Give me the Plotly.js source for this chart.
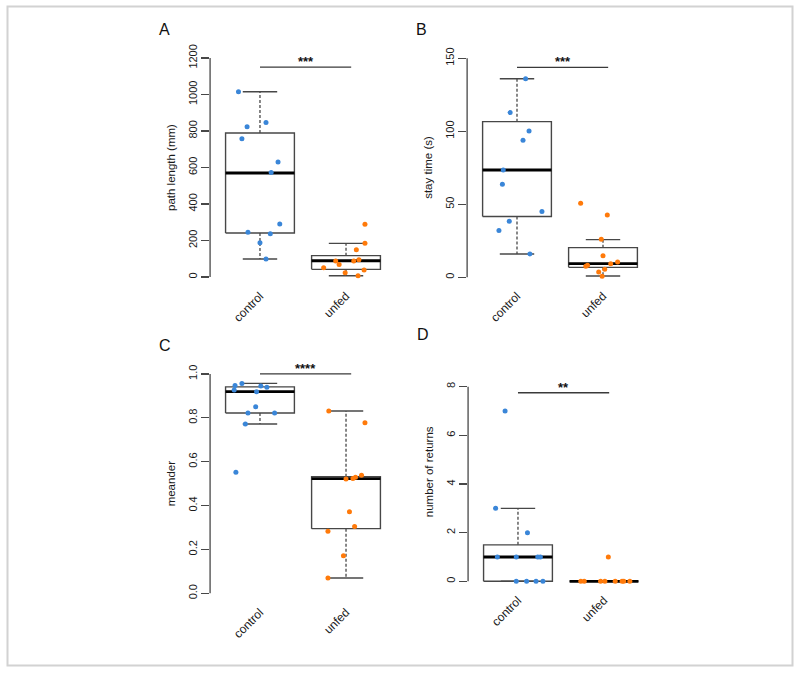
<!DOCTYPE html>
<html>
<head>
<meta charset="utf-8">
<script src="https://cdn.plot.ly/plotly-3.0.1.min.js"></script>
<style>
  body { margin: 0; background: #fff; }
  #chart { width: 800px; height: 673px; }
</style>
</head>
<body>
<div id="chart"></div>
<script>
// Four boxplots (control vs unfed) with jittered points

const groups = ['control', 'unfed'];

// box stats: [lower whisker, Q1, median, Q3, upper whisker]
// A: path length (mm)
const pathControl = [1015, 824, 847, 758, 630, 572, 290, 245, 237, 188, 99];
const pathControlJitter = [-0.25, -0.15, 0.07, -0.21, 0.21, 0.13, 0.23, -0.14, 0.12, 0.00, 0.07];
const pathControlBox = [99, 241, 570, 789, 1015];
const pathUnfed = [289, 185, 149, 88, 68, 88, 94, 51, 38, 23, 7];
const pathUnfedJitter = [0.22, 0.22, 0.12, -0.12, -0.08, 0.09, 0.15, -0.26, 0.21, -0.01, 0.14];
const pathUnfedBox = [7, 42, 89, 117, 184];

// B: stay time (s)
const stayControl = [136, 112.8, 100.2, 93.8, 73.5, 63.7, 45, 38.4, 32, 16];
const stayControlJitter = [0.10, -0.08, 0.14, 0.07, -0.16, -0.17, 0.29, -0.09, -0.21, 0.15];
const stayControlBox = [16, 41.6, 73.5, 106.6, 136];
const stayUnfed = [50.7, 42.7, 26, 14.8, 9.3, 10.5, 7.5, 8.2, 5.5, 3.6, 0.7];
const stayUnfedJitter = [-0.26, 0.05, -0.02, 0.00, 0.09, 0.17, -0.20, -0.18, 0.02, -0.05, -0.01];
const stayUnfedBox = [0.9, 6.8, 9.3, 20.3, 25.8];

// C: meander
const meanderControl = [0.956, 0.947, 0.945, 0.939, 0.927, 0.919, 0.850, 0.822, 0.822, 0.772, 0.552];
const meanderControlJitter = [-0.21, -0.29, 0.01, 0.08, -0.30, -0.04, -0.05, -0.14, 0.17, -0.17, -0.28];
const meanderControlBox = [0.772, 0.822, 0.919, 0.941, 0.957];
const meanderUnfed = [0.831, 0.777, 0.538, 0.529, 0.524, 0.521, 0.372, 0.305, 0.283, 0.171, 0.070];
const meanderUnfedJitter = [-0.20, 0.22, 0.18, 0.11, 0.08, 0.00, 0.04, 0.10, -0.21, -0.03, -0.21];
const meanderUnfedBox = [0.070, 0.295, 0.523, 0.532, 0.831];

// D: number of returns
const returnsControl = [7, 3, 2, 1, 1, 1, 1, 0, 0, 0, 0];
const returnsControlJitter = [-0.15, -0.26, 0.11, -0.24, -0.02, 0.23, 0.26, -0.02, 0.10, 0.21, 0.29];
const returnsControlBox = [0, 0, 1, 1.5, 3];
const returnsUnfed = [0, 0, 0, 0, 0, 0, 0, 0, 1];
const returnsUnfedJitter = [-0.27, -0.23, -0.04, 0.01, 0.13, 0.21, 0.23, 0.30, 0.05];
const returnsUnfedBox = [0, 0, 0, 0, 0];

// significance bars
const sigLevels = [1150, 143.8, 1.0, 7.75];
const sigLabels = ['***', '***', '****', '**'];
const yTicks = [
    [0, 200, 400, 600, 800, 1000, 1200],
    [0, 50, 100, 150],
    [0, 0.2, 0.4, 0.6, 0.8, 1.0],
    [0, 2, 4, 6, 8]
];
const yTickText = [
    ['0', '200', '400', '600', '800', '1000', '1200'],
    ['0', '50', '100', '150'],
    ['0.0', '0.2', '0.4', '0.6', '0.8', '1.0'],
    ['0', '2', '4', '6', '8']
];
const yTitles = ['path length (mm)', 'stay time (s)', 'meander', 'number of returns'];
const panelLetters = ['A', 'B', 'C', 'D'];

const FONT = 'Liberation Sans, Arial, sans-serif';
const BLUE = '#3a86d8';
const ORANGE = '#ff7a0a';
const BOXLINE = '#474747';

// panel placement (paper fractions) and ranges
const xDomains = [[0.2626, 0.4949], [0.5839, 0.8161], [0.2626, 0.4949], [0.5851, 0.8174]];
const yDomains = [[0.5754, 0.9268], [0.5754, 0.9268], [0.1053, 0.4574], [0.1232, 0.4746]];
const yRanges = [[-48, 1248], [-5.8, 156.2], [-0.04, 1.04], [-0.36, 9.36]];

// Build box + whisker + points for one group
function groupTraces(ax, center, box, vals, jitter, color) {
    const [lo, q1, med, q3, hi] = box;
    const xa = 'x' + ax, ya = 'y' + ax;
    const half = 0.4, cap = 0.2;
    const traces = [];
    const base = { xaxis: xa, yaxis: ya, type: 'scatter', mode: 'lines', hoverinfo: 'skip', showlegend: false };

    // whiskers (dashed)
    traces.push({ ...base,
        x: [center, center, null, center, center],
        y: [q3, hi, null, q1, lo],
        line: { color: BOXLINE, width: 1.3, dash: '3px,2px' }
    });
    // caps
    traces.push({ ...base,
        x: [center - cap, center + cap, null, center - cap, center + cap],
        y: [hi, hi, null, lo, lo],
        line: { color: BOXLINE, width: 1.4 }
    });
    // box
    traces.push({ ...base,
        x: [center - half, center + half, center + half, center - half, center - half],
        y: [q1, q1, q3, q3, q1],
        line: { color: BOXLINE, width: 1.4 }
    });
    // median
    traces.push({ ...base,
        x: [center - half, center + half],
        y: [med, med],
        line: { color: '#000', width: 2.8 }
    });
    // jittered points
    traces.push({
        xaxis: xa, yaxis: ya, type: 'scatter', mode: 'markers', showlegend: false,
        x: vals.map((v, i) => center + jitter[i]),
        y: vals,
        marker: { color: color, size: 5 }
    });
    return traces;
}

const panels = [
    [pathControl, pathControlJitter, pathControlBox, pathUnfed, pathUnfedJitter, pathUnfedBox],
    [stayControl, stayControlJitter, stayControlBox, stayUnfed, stayUnfedJitter, stayUnfedBox],
    [meanderControl, meanderControlJitter, meanderControlBox, meanderUnfed, meanderUnfedJitter, meanderUnfedBox],
    [returnsControl, returnsControlJitter, returnsControlBox, returnsUnfed, returnsUnfedJitter, returnsUnfedBox]
];

let data = [];
const layout = {
    width: 800,
    height: 673,
    margin: { l: 0, r: 0, t: 0, b: 0 },
    paper_bgcolor: '#fff',
    plot_bgcolor: 'rgba(0,0,0,0)',
    font: { family: FONT, color: '#1a1a1a' },
    showlegend: false,
    shapes: [],
    annotations: []
};

// outer frame
layout.shapes.push({
    type: 'rect', xref: 'paper', yref: 'paper',
    x0: 7.5 / 800, x1: 792.5 / 800, y0: 1 - 665.5 / 673, y1: 1 - 6.5 / 673,
    line: { color: '#d2d2d2', width: 2 }
});

panels.forEach((p, k) => {
    const n = k + 1;
    const ax = n === 1 ? '' : String(n);
    const [cv, cj, cb, uv, uj, ub] = p;
    data = data.concat(groupTraces(ax, 1, cb, cv, cj, BLUE));
    data = data.concat(groupTraces(ax, 2, ub, uv, uj, ORANGE));

    layout['xaxis' + ax] = {
        domain: xDomains[k],
        anchor: 'y' + ax,
        range: [0.42, 2.58],
        tickvals: [1, 2],
        ticktext: groups,
        tickangle: -45,
        ticks: '',
        showline: false,
        showgrid: false,
        zeroline: false,
        tickfont: { family: FONT, size: 12, color: '#1a1a1a' },
        fixedrange: true
    };
    layout['yaxis' + ax] = {
        domain: yDomains[k],
        anchor: 'x' + ax,
        range: yRanges[k],
        tickvals: yTicks[k],
        ticktext: yTickText[k],
        tickangle: -90,
        ticks: 'outside',
        ticklen: 8,
        tickwidth: 1.2,
        tickcolor: BOXLINE,
        showline: false,
        showgrid: false,
        zeroline: false,
        tickfont: { family: FONT, size: 11, color: '#1a1a1a' },
        title: { text: yTitles[k], font: { family: FONT, size: 11.5, color: '#1a1a1a' }, standoff: 8 },
        fixedrange: true
    };

    // y axis line only over tick span
    const t = yTicks[k];
    layout.shapes.push({
        type: 'line', xref: 'x' + ax + ' domain', yref: 'y' + ax,
        x0: 0, x1: 0, y0: t[0], y1: t[t.length - 1],
        line: { color: BOXLINE, width: 1.3 }
    });

    // significance bar
    layout.shapes.push({
        type: 'line', xref: 'x' + ax, yref: 'y' + ax,
        x0: 1, x1: 2.06, y0: sigLevels[k], y1: sigLevels[k],
        line: { color: '#3a3a3a', width: 1.3 }
    });
    layout.annotations.push({
        xref: 'x' + ax, yref: 'y' + ax,
        x: 1.53, y: sigLevels[k],
        text: '<b>' + sigLabels[k] + '</b>', showarrow: false,
        yanchor: 'bottom', yshift: -4,
        font: { family: FONT, size: 13, color: '#111' }
    });

    // panel letter
    layout.annotations.push({
        xref: 'paper', yref: 'paper',
        x: xDomains[k][0] - 0.066, y: yDomains[k][1] + 0.029,
        xanchor: 'left', yanchor: 'middle',
        text: panelLetters[k], showarrow: false,
        font: { family: FONT, size: 16, color: '#111' }
    });
});

Plotly.newPlot('chart', data, layout, { staticPlot: true });
</script>
</body>
</html>
